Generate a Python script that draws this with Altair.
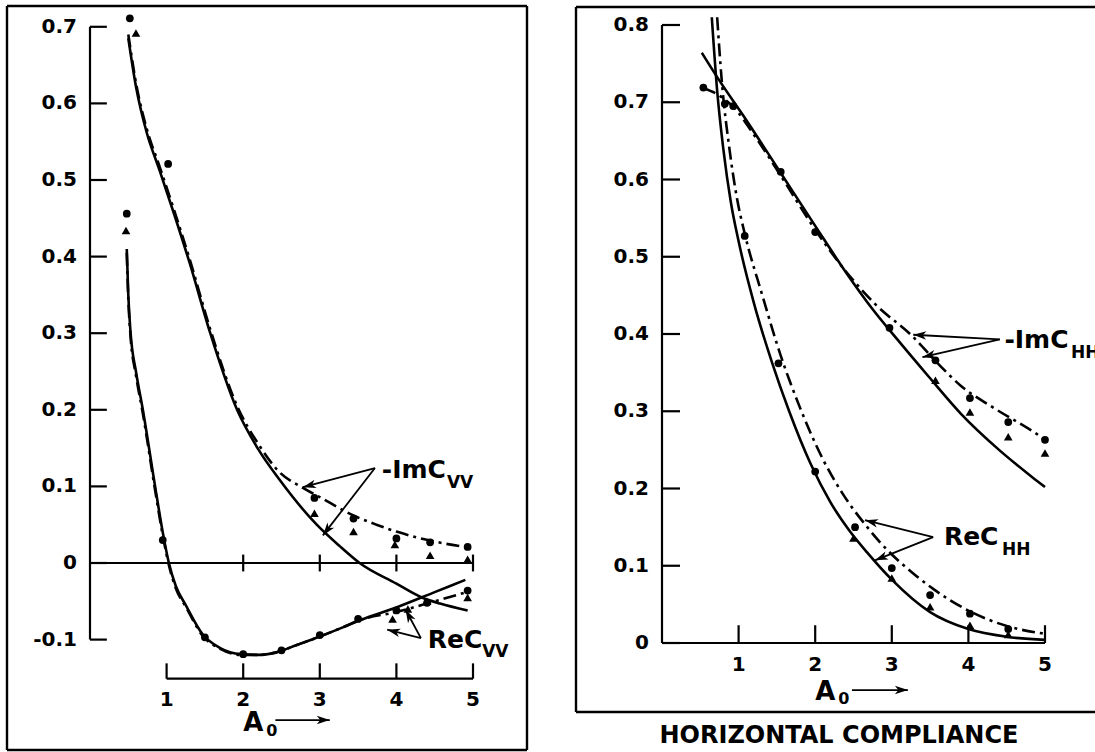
import math
import altair as alt
import pandas as pd

FONT = "DejaVu Sans"

# ---------------- Left panel (vertical compliance) ----------------
VV_IM_SOLID_X = [0.50, 0.60, 0.74, 0.90, 1.10, 1.30, 1.57, 1.92, 2.20, 2.48, 2.96, 3.26, 3.52, 4.00, 4.31, 4.57, 4.93]
VV_IM_SOLID_Y = [0.685, 0.622, 0.562, 0.515, 0.455, 0.392, 0.300, 0.200, 0.148, 0.108, 0.050, 0.022, 0.000, -0.027, -0.044, -0.053, -0.062]
VV_IM_DASH_X = [0.50, 0.60, 0.74, 0.90, 1.10, 1.30, 1.57, 1.92, 2.20, 2.46, 2.78, 3.00, 3.44, 3.74, 4.00, 4.28, 4.50, 4.95]
VV_IM_DASH_Y = [0.690, 0.627, 0.567, 0.520, 0.460, 0.397, 0.305, 0.205, 0.155, 0.120, 0.098, 0.086, 0.062, 0.050, 0.041, 0.033, 0.028, 0.020]
VV_RE_SOLID_X = [0.48, 0.50, 0.53, 0.60, 0.69, 0.85, 0.95, 1.03, 1.12, 1.25, 1.47, 1.70, 1.97, 2.20, 2.42, 2.70, 3.00, 3.30, 3.54, 4.00, 4.50, 4.90]
VV_RE_SOLID_Y = [0.410, 0.350, 0.300, 0.250, 0.200, 0.100, 0.040, 0.000, -0.030, -0.055, -0.093, -0.111, -0.119, -0.120, -0.117, -0.107, -0.096, -0.084, -0.074, -0.058, -0.038, -0.022]
VV_RE_DASH_X = [0.48, 0.50, 0.53, 0.60, 0.69, 0.85, 0.95, 1.03, 1.12, 1.25, 1.47, 1.70, 1.97, 2.20, 2.42, 2.70, 3.00, 3.30, 3.54, 4.00, 4.50, 4.95]
VV_RE_DASH_Y = [0.405, 0.345, 0.295, 0.245, 0.195, 0.095, 0.036, -0.003, -0.033, -0.057, -0.095, -0.112, -0.120, -0.120, -0.117, -0.107, -0.096, -0.084, -0.074, -0.064, -0.050, -0.037]
VV_IM_CIRC_X = [0.52, 1.02, 2.93, 3.44, 4.00, 4.44, 4.93]
VV_IM_CIRC_Y = [0.711, 0.521, 0.085, 0.058, 0.032, 0.027, 0.021]
VV_IM_TRI_X = [0.60, 2.93, 3.44, 3.98, 4.44, 4.93]
VV_IM_TRI_Y = [0.692, 0.065, 0.041, 0.024, 0.010, 0.005]
VV_RE_CIRC_X = [0.48, 0.95, 1.50, 2.00, 2.50, 3.00, 3.50, 4.00, 4.40, 4.93]
VV_RE_CIRC_Y = [0.456, 0.030, -0.097, -0.119, -0.114, -0.094, -0.073, -0.062, -0.052, -0.036]
VV_RE_TRI_X = [0.47, 3.95, 4.15, 4.40, 4.93]
VV_RE_TRI_Y = [0.434, -0.073, -0.060, -0.050, -0.045]

L_YTICKS = [0.7, 0.6, 0.5, 0.4, 0.3, 0.2, 0.1, 0.0, -0.1]
L_YLABELS = ["0.7", "0.6", "0.5", "0.4", "0.3", "0.2", "0.1", "0", "-0.1"]
L_XTICKS = [1, 2, 3, 4, 5]
L_XLABELS = ["1", "2", "3", "4", "5"]
L_ZERO_TICKS = [2, 3, 4, 5]

# ---------------- Right panel (horizontal compliance) ----------------
HH_IM_SOLID_X = [0.52, 0.75, 1.08, 1.54, 2.00, 2.40, 2.75, 3.08, 3.48, 3.90, 4.40, 4.83, 5.00]
HH_IM_SOLID_Y = [0.764, 0.728, 0.680, 0.610, 0.540, 0.480, 0.432, 0.392, 0.345, 0.297, 0.250, 0.215, 0.202]
HH_IM_DASH_X = [0.54, 0.76, 0.95, 1.20, 1.55, 2.00, 2.45, 2.80, 3.26, 3.60, 3.90, 4.32, 4.93, 5.00]
HH_IM_DASH_Y = [0.718, 0.708, 0.692, 0.658, 0.605, 0.535, 0.475, 0.437, 0.398, 0.362, 0.333, 0.305, 0.268, 0.263]
HH_RE_SOLID_X = [0.65, 0.72, 0.80, 0.90, 1.00, 1.20, 1.44, 1.66, 1.94, 2.20, 2.45, 2.68, 3.00, 3.50, 4.00, 4.50, 5.00]
HH_RE_SOLID_Y = [0.810, 0.715, 0.640, 0.570, 0.520, 0.440, 0.362, 0.300, 0.232, 0.182, 0.145, 0.117, 0.082, 0.040, 0.018, 0.008, 0.004]
HH_RE_DASH_X = [0.72, 0.78, 0.88, 0.98, 1.08, 1.31, 1.54, 1.80, 2.10, 2.36, 2.68, 2.85, 3.28, 3.54, 4.00, 4.50, 5.00]
HH_RE_DASH_Y = [0.810, 0.728, 0.640, 0.575, 0.530, 0.450, 0.375, 0.305, 0.238, 0.193, 0.150, 0.130, 0.090, 0.070, 0.042, 0.022, 0.012]
HH_IM_CIRC_X = [0.54, 0.93, 1.55, 2.00, 2.97, 3.57, 4.02, 4.52, 5.00]
HH_IM_CIRC_Y = [0.719, 0.695, 0.610, 0.532, 0.408, 0.366, 0.317, 0.286, 0.263]
HH_IM_TRI_X = [3.57, 4.02, 4.52, 5.00]
HH_IM_TRI_Y = [0.340, 0.299, 0.267, 0.246]
HH_RE_CIRC_X = [0.82, 1.08, 1.52, 2.00, 2.52, 3.00, 3.50, 4.02, 4.52]
HH_RE_CIRC_Y = [0.698, 0.527, 0.362, 0.222, 0.150, 0.097, 0.062, 0.038, 0.018]
HH_RE_TRI_X = [2.50, 3.00, 3.50, 4.02, 4.52]
HH_RE_TRI_Y = [0.136, 0.084, 0.047, 0.023, 0.011]

R_YTICKS = [0.8, 0.7, 0.6, 0.5, 0.4, 0.3, 0.2, 0.1, 0.0]
R_YLABELS = ["0.8", "0.7", "0.6", "0.5", "0.4", "0.3", "0.2", "0.1", "0"]
R_XTICKS = [1, 2, 3, 4, 5]
R_XLABELS = ["1", "2", "3", "4", "5"]

# ---------------- layout: one shared canvas, two panels ----------------
W, H = 1095, 752
PX_X = 76.6            # pixels per A0 unit (both panels)
PX_YL = 766.0          # pixels per compliance unit, left panel
PX_YR = 772.5          # pixels per compliance unit, right panel
L_ORIGIN = (90, 563)   # pixel of (0, 0) in left panel
R_ORIGIN = (662, 643)  # pixel of (0, 0) in right panel

GX_DOM = [-L_ORIGIN[0] / PX_X, (W - L_ORIGIN[0]) / PX_X]
GY_DOM = [-(H - L_ORIGIN[1]) / PX_YL, L_ORIGIN[1] / PX_YL]
R_DX = (R_ORIGIN[0] - L_ORIGIN[0]) / PX_X
R_KY = PX_YR / PX_YL
R_DY = (R_ORIGIN[1] - L_ORIGIN[1]) / PX_YL

# frame boxes in each panel's own units
LXF = [(7 - L_ORIGIN[0]) / PX_X, (527 - L_ORIGIN[0]) / PX_X]
LYF = [(L_ORIGIN[1] - 750) / PX_YL, (L_ORIGIN[1] - 6) / PX_YL]
RXF = [(576 - R_ORIGIN[0]) / PX_X, (1110 - R_ORIGIN[0]) / PX_X]
RYF = [(R_ORIGIN[1] - 712) / PX_YR, (R_ORIGIN[1] - 7) / PX_YR]

ARROW = "M0,0L-2.6,-0.85L-1.9,0L-2.6,0.85Z"


def G(p, x, y):
    if p == "L":
        return x, y
    return x + R_DX, y * R_KY - R_DY


def SY(p):
    return PX_YL if p == "L" else PX_YR


rules, solid, dash, circ, tri, heads = [], [], [], [], [], []
txt_right, txt_center, txt_left = [], [], []


def add_rule(p, x, y, x2, y2, w=2.2):
    gx, gy = G(p, x, y)
    gx2, gy2 = G(p, x2, y2)
    rules.append({"x": gx, "y": gy, "x2": gx2, "y2": gy2, "w": w})


def add_series(target, p, name, xs, ys):
    for i, (a, b) in enumerate(zip(xs, ys)):
        gx, gy = G(p, a, b)
        target.append({"s": p + name, "i": i, "x": gx, "y": gy})


def add_pts(target, p, xs, ys):
    for a, b in zip(xs, ys):
        gx, gy = G(p, a, b)
        target.append({"x": gx, "y": gy})


def add_arrow(p, tail, head):
    add_rule(p, tail[0], tail[1], head[0], head[1], 1.8)
    dx = (head[0] - tail[0]) * PX_X
    dy = -(head[1] - tail[1]) * SY(p)
    gx, gy = G(p, head[0], head[1])
    heads.append({"x": gx, "y": gy, "ang": math.degrees(math.atan2(dy, dx)) % 360})


def add_text(target, p, x, y, t, fs):
    gx, gy = G(p, x, y)
    target.append({"x": gx, "y": gy, "t": t, "fs": fs})


# ---- left panel ----
for (a, b, c, d) in [(LXF[0], LYF[1], LXF[1], LYF[1]), (LXF[0], LYF[0], LXF[1], LYF[0]),
                     (LXF[0], LYF[0], LXF[0], LYF[1]), (LXF[1], LYF[0], LXF[1], LYF[1])]:
    add_rule("L", a, b, c, d, 2.4)
add_rule("L", 0, -0.1, 0, 0.7)
add_rule("L", 0, 0, 5, 0)
add_rule("L", 1, -0.151, 5, -0.151)
for v in L_YTICKS:
    add_rule("L", 0, v, 0.22, v)
for v in L_ZERO_TICKS:
    add_rule("L", v, -0.011, v, 0.011)
for v in L_XTICKS:
    add_rule("L", v, -0.151, v, -0.131)
add_series(solid, "L", "im", VV_IM_SOLID_X, VV_IM_SOLID_Y)
add_series(solid, "L", "re", VV_RE_SOLID_X, VV_RE_SOLID_Y)
add_series(dash, "L", "im", VV_IM_DASH_X, VV_IM_DASH_Y)
add_series(dash, "L", "re", VV_RE_DASH_X, VV_RE_DASH_Y)
add_pts(circ, "L", VV_IM_CIRC_X + VV_RE_CIRC_X, VV_IM_CIRC_Y + VV_RE_CIRC_Y)
add_pts(tri, "L", VV_IM_TRI_X + VV_RE_TRI_X, VV_IM_TRI_Y + VV_RE_TRI_Y)
for tail, head in [((3.72, 0.124), (2.78, 0.099)), ((3.72, 0.124), (3.04, 0.036)),
                   ((4.32, -0.098), (3.88, -0.087)), ((4.32, -0.098), (4.12, -0.061)),
                   ((2.42, -0.205), (3.13, -0.205))]:
    add_arrow("L", tail, head)
for v, t in zip(L_YTICKS, L_YLABELS):
    add_text(txt_right, "L", -0.17, v, t, 20)
for v, t in zip(L_XTICKS, L_XLABELS):
    add_text(txt_center, "L", v, -0.179, t, 20)
for t, x, y, fs in [("-ImC", 3.81, 0.121, 25), ("VV", 4.66, 0.104, 17),
                    ("ReC", 4.41, -0.1005, 25), ("VV", 5.12, -0.116, 17),
                    ("A", 2.00, -0.209, 26), ("0", 2.30, -0.219, 16)]:
    add_text(txt_left, "L", x, y, t, fs)

# ---- right panel ----
for (a, b, c, d) in [(RXF[0], RYF[1], RXF[1], RYF[1]), (RXF[0], RYF[0], RXF[1], RYF[0]),
                     (RXF[0], RYF[0], RXF[0], RYF[1])]:
    add_rule("R", a, b, c, d, 2.4)
add_rule("R", 0, 0, 0, 0.8)
add_rule("R", 0, 0, 5, 0)
for v in R_YTICKS:
    add_rule("R", 0, v, 0.235, v)
for v in R_XTICKS:
    add_rule("R", v, 0, v, 0.023)
add_series(solid, "R", "im", HH_IM_SOLID_X, HH_IM_SOLID_Y)
add_series(solid, "R", "re", HH_RE_SOLID_X, HH_RE_SOLID_Y)
add_series(dash, "R", "im", HH_IM_DASH_X, HH_IM_DASH_Y)
add_series(dash, "R", "re", HH_RE_DASH_X, HH_RE_DASH_Y)
add_pts(circ, "R", HH_IM_CIRC_X + HH_RE_CIRC_X, HH_IM_CIRC_Y + HH_RE_CIRC_Y)
add_pts(tri, "R", HH_IM_TRI_X + HH_RE_TRI_X, HH_IM_TRI_Y + HH_RE_TRI_Y)
for tail, head in [((4.41, 0.393), (3.28, 0.399)), ((4.41, 0.393), (3.40, 0.370)),
                   ((3.54, 0.137), (2.65, 0.159)), ((3.54, 0.137), (2.78, 0.107)),
                   ((2.48, -0.061), (3.21, -0.061))]:
    add_arrow("R", tail, head)
for v, t in zip(R_YTICKS, R_YLABELS):
    add_text(txt_right, "R", -0.17, v, t, 20)
for v, t in zip(R_XTICKS, R_XLABELS):
    add_text(txt_center, "R", v, -0.0285, t, 20)
for t, x, y, fs in [("-ImC", 4.47, 0.392, 25), ("HH", 5.34, 0.375, 17),
                    ("ReC", 3.68, 0.137, 25), ("HH", 4.44, 0.121, 17),
                    ("A", 2.00, -0.0634, 26), ("0", 2.30, -0.0725, 16)]:
    add_text(txt_left, "R", x, y, t, fs)
add_text(txt_center, "R", 2.31, -0.1200, "HORIZONTAL COMPLIANCE", 24)

# ---------------- chart ----------------
X = alt.X("x:Q", scale=alt.Scale(domain=GX_DOM, nice=False, zero=False), axis=None)
Y = alt.Y("y:Q", scale=alt.Scale(domain=GY_DOM, nice=False, zero=False), axis=None)

rules_layer = alt.Chart(pd.DataFrame(rules)).mark_rule(color="black", clip=True).encode(
    X, Y, x2="x2:Q", y2="y2:Q", strokeWidth=alt.StrokeWidth("w:Q", scale=None))
solid_layer = alt.Chart(pd.DataFrame(solid)).mark_line(
    color="black", strokeWidth=2.6, interpolate="monotone").encode(
    X, Y, detail="s:N", order="i:Q")
dash_layer = alt.Chart(pd.DataFrame(dash)).mark_line(
    color="black", strokeWidth=2.6, interpolate="monotone", strokeDash=[13, 5, 3, 5]).encode(
    X, Y, detail="s:N", order="i:Q")
circ_layer = alt.Chart(pd.DataFrame(circ)).mark_point(
    shape="circle", filled=True, color="black", opacity=1, size=60).encode(X, Y)
tri_layer = alt.Chart(pd.DataFrame(tri)).mark_point(
    shape="triangle-up", filled=True, color="black", opacity=1, size=75).encode(X, Y)
head_layer = alt.Chart(pd.DataFrame(heads)).mark_point(
    shape=ARROW, filled=True, color="black", opacity=1, size=100).encode(
    X, Y, angle=alt.Angle("ang:Q", scale=None))


def text_layer(rows, align):
    return alt.Chart(pd.DataFrame(rows)).mark_text(
        align=align, baseline="middle", font=FONT, fontWeight="bold", color="black",
        clip=True).encode(X, Y, text="t:N", size=alt.Size("fs:Q", scale=None))


chart = alt.layer(
    rules_layer, solid_layer, dash_layer, circ_layer, tri_layer, head_layer,
    text_layer(txt_right, "right"), text_layer(txt_center, "center"), text_layer(txt_left, "left"),
).properties(
    width=W, height=H,
    autosize=alt.AutoSizeParams(type="none"),
    padding=0,
    background="white",
).configure_view(strokeWidth=0)

chart.save("out.html", embed_options={"renderer": "svg", "actions": False})
